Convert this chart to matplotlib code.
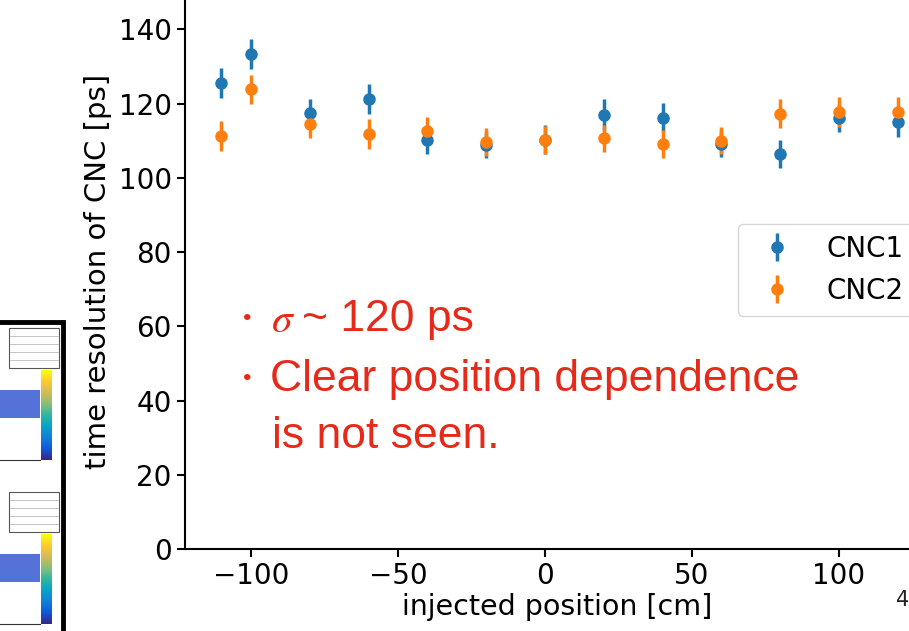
import numpy as np
import matplotlib
matplotlib.use("Agg")
import matplotlib.pyplot as plt
from matplotlib.patches import Rectangle
from matplotlib.colors import LinearSegmentedColormap

# injected positions [cm]
positions = [-110, -100, -80, -60, -40, -20, 0, 20, 40, 60, 80, 100, 120]

# time resolution [ps]
cnc1 = [125.5, 133.3, 117.5, 121.3, 110.3, 108.8, 110.3, 116.9, 116.2, 109.2, 106.4, 116.2, 114.9]
cnc1_err = [4.0, 4.0, 3.8, 4.0, 3.8, 3.6, 3.8, 4.2, 4.0, 3.6, 3.9, 3.8, 3.9]
cnc2 = [111.3, 123.8, 114.4, 111.7, 112.5, 109.7, 110.1, 110.6, 109.2, 110.0, 117.3, 117.8, 117.8]
cnc2_err = [4.0, 3.9, 3.6, 4.0, 3.9, 3.8, 3.8, 3.7, 3.8, 3.6, 3.8, 4.0, 4.0]

W, H = 909, 631
fig = plt.figure(figsize=(W / 100, H / 100), dpi=100)

ax = fig.add_axes([185 / W, 82 / H, 744 / W, 555 / H])
ax.errorbar(positions, cnc1, yerr=cnc1_err, fmt='o', ms=8, elinewidth=2.5,
            color='#1f77b4', label='CNC1')
ax.errorbar(positions, cnc2, yerr=cnc2_err, fmt='o', ms=8, elinewidth=2.5,
            color='#ff7f0e', label='CNC2')
ax.set_xlim(-122.4, 130.6)
ax.set_ylim(0, 149.5)
ax.set_yticks([0, 20, 40, 60, 80, 100, 120, 140])
ax.set_xticks([-100, -50, 0, 50, 100])
ax.tick_params(labelsize=20, length=6, width=1.5)
for s in ax.spines.values():
    s.set_linewidth(1.5)
ax.set_xlabel("injected position [cm]", fontsize=20.5, labelpad=2)
ax.set_ylabel("time resolution of CNC [ps]", fontsize=21, labelpad=5)

leg = ax.legend(loc='upper left', bbox_to_anchor=(0.743, 0.586), fontsize=20,
                borderaxespad=0)

# slide text in red
red = '#e62a1a'
fam = ['Noto Sans CJK JP', 'DejaVu Sans']
fig.text(232 / W, 1 - 320 / H, "・", color=red, fontsize=22, family=fam, va='center')
fig.text(271 / W, 1 - 320 / H, r"$\sigma$", color=red, fontsize=30, va='center',
         math_fontfamily='stix')
fig.text(302 / W, 1 - 320 / H, "~ 120 ps", color=red, fontsize=32,
         family='Liberation Sans', va='center')
fig.text(232 / W, 1 - 380 / H, "・", color=red, fontsize=22, family=fam, va='center')
fig.text(270 / W, 1 - 380 / H, "Clear position dependence", color=red, fontsize=32,
         family='Liberation Sans', va='center')
fig.text(272 / W, 1 - 437 / H, "is not seen.", color=red, fontsize=32,
         family='Liberation Sans', va='center')

# page number peeking in at the corner
fig.text(896 / W, 1 - 600 / H, "4", fontsize=15, color='#222222', va='center')

# cropped screenshot panel on the left edge
bird = LinearSegmentedColormap.from_list(
    'bird', ['#352a87', '#0f5cdd', '#1481d6', '#06a4ca', '#2eb7a4',
             '#87bf77', '#d1bb59', '#fec832', '#f9fb0e'])
inset = fig.add_axes([0, 0, 68 / W, 311 / H])
inset.axis('off')
inset.add_patch(Rectangle((-10, 2), 73, 330, fill=False, lw=3.5, ec='black'))
grad = np.linspace(1, 0, 50).reshape(-1, 1)
for top in (8, 172):
    inset.add_patch(Rectangle((9, top), 50, 40, fill=True, fc='white', ec='#555555', lw=0.8))
    for k in range(1, 5):
        inset.plot([10, 58], [top + k * 8, top + k * 8], color='#999999', lw=0.4)
    inset.imshow(grad, cmap=bird, aspect='auto',
                 extent=(41, 52, top + 132, top + 42), zorder=2)
    inset.add_patch(Rectangle((0, top + 62), 40, 28, fc='#2a4fd0', ec='none', alpha=0.8))
    inset.plot([0, 40], [top + 132, top + 132], color='#333333', lw=0.8)
inset.set_xlim(0, 68)
inset.set_ylim(311, 0)

fig.savefig("out.png", dpi=100)
